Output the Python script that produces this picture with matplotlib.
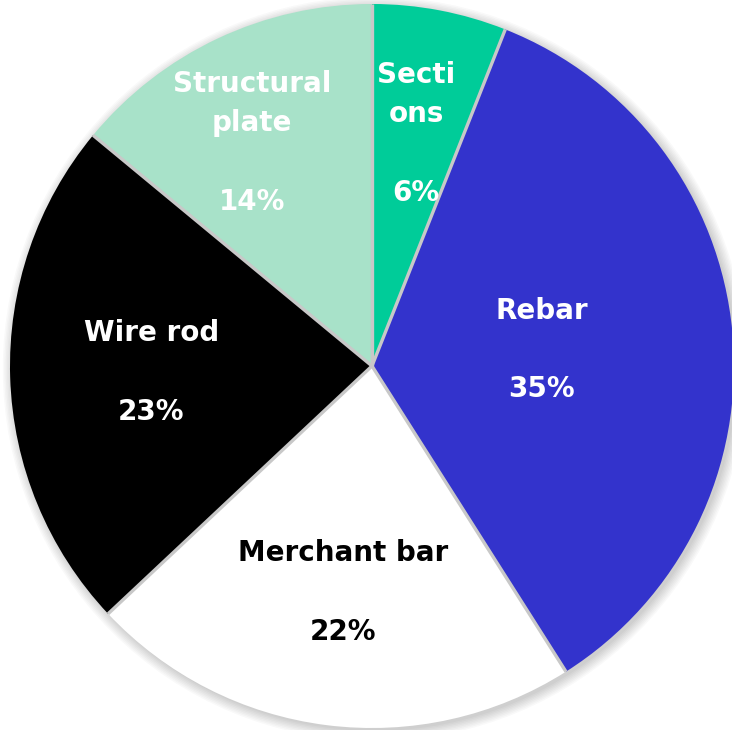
import numpy as np
import matplotlib.pyplot as plt
from matplotlib.patches import Circle

# product mix, clockwise from 12 o'clock
products = ["Secti\nons", "Rebar", "Merchant bar", "Wire rod", "Structural\nplate"]
shares = [6, 35, 22, 23, 14]
colors = ["#00CC99", "#3333CC", "#FFFFFF", "#000000", "#A8E2C9"]
text_colors = ["white", "white", "black", "white", "white"]
# label placement: fraction of radius, and angular nudge in degrees
label_r = [0.652, 0.47, 0.63, 0.61, 0.70]
label_nudge = [0.0, 0.0, 0.0, 0.0, 3.0]

fig = plt.figure(figsize=(7.32, 7.30), dpi=100)
ax = fig.add_axes([0, 0, 1, 1])
ax.axis("off")

# soft drop shadow behind the pie
for k in range(8):
    ax.add_patch(Circle((0.008, -0.008), 1.0 + 0.004 * k, color="black",
                        alpha=0.022, lw=0, zorder=0))

wedges, _ = ax.pie(shares, colors=colors, startangle=90, counterclock=False,
                   radius=1.0, wedgeprops=dict(linewidth=0, zorder=1),
                   frame=False)
ax.set_xlim(-1.0276, 0.9945)
ax.set_ylim(-1.0055, 1.011)

# grey separators between slices
for w in wedges:
    a = np.deg2rad(w.theta1)
    ax.plot([0, np.cos(a)], [0, np.sin(a)], color="#C8C8C8", lw=2.4,
            solid_capstyle="butt", zorder=2)

for w, name, val, tc, r, dn in zip(wedges, products, shares, text_colors,
                                   label_r, label_nudge):
    mid = np.deg2rad((w.theta1 + w.theta2) / 2 + dn)
    ax.text(r * np.cos(mid), r * np.sin(mid), f"{name}\n\n{val}%",
            ha="center", va="center", color=tc, fontsize=20,
            fontweight="bold", family="DejaVu Sans", linespacing=1.52,
            zorder=3)

fig.savefig("out.png", dpi=100)
